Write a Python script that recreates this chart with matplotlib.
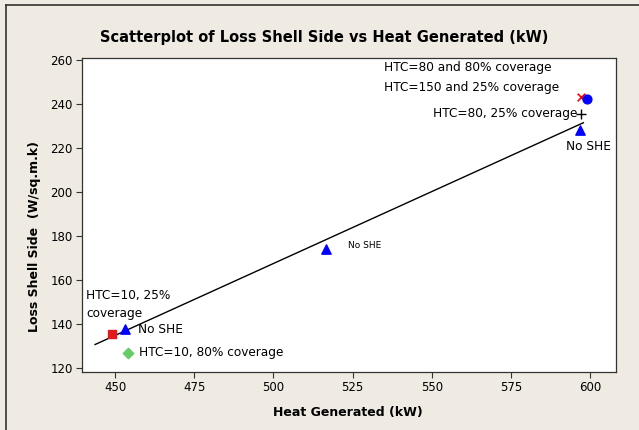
import numpy as np
import matplotlib
matplotlib.use("Agg")
import matplotlib.pyplot as plt
from matplotlib.lines import Line2D

plt.rcParams['font.family'] = ['DejaVu Sans']

# "No SHE" runs (blue triangles)
no_she_heat = [453, 516.6, 596.7]
no_she_loss = [137.7, 174.1, 228.2]

# HTC=10, 25% coverage
htc10_25_heat = [449]
htc10_25_loss = [135.5]
# HTC=10, 80% coverage
htc10_80_heat = [454]
htc10_80_loss = [127]
# HTC=80, 25% coverage
htc80_25_heat = [597.3]
htc80_25_loss = [235.5]
# HTC=80, 80% coverage
htc80_80_heat = [597]
htc80_80_loss = [243.3]
# HTC=150, 25% coverage
htc150_25_heat = [598.9]
htc150_25_loss = [242.1]

fit_x_range = [443.7, 597.9]

x_ticks = [450, 475, 500, 525, 550, 575, 600]
y_ticks = [120, 140, 160, 180, 200, 220, 240, 260]

bg = '#EFEBE2'
fig = plt.figure(figsize=(6.39, 4.30), dpi=100, facecolor=bg)
ax = fig.add_axes([0.129, 0.1356, 0.8345, 0.7284])
ax.set_facecolor('white')

# fitted line through the no-SHE and HTC 10/80 @ 25% runs
fit_x = no_she_heat + htc10_25_heat + htc80_25_heat
fit_y = no_she_loss + htc10_25_loss + htc80_25_loss
slope, intercept = np.polyfit(fit_x, fit_y, 1)
lx = np.array(fit_x_range)
ax.plot(lx, slope * lx + intercept, color='black', lw=1.0, zorder=2)

ax.scatter(no_she_heat, no_she_loss, marker='^', s=45, color='#0000FF', zorder=3)
ax.scatter(htc10_25_heat, htc10_25_loss, marker='s', s=36, color='#E31A1C', zorder=3)
ax.scatter(htc10_80_heat, htc10_80_loss, marker='D', s=28, color='#66CC66', zorder=3)
ax.scatter(htc80_25_heat, htc80_25_loss, marker='+', s=45, color='black', linewidths=1.0, zorder=3)
ax.scatter(htc80_80_heat, htc80_80_loss, marker='x', s=30, color='#FF0000', linewidths=1.2, zorder=3)
ax.scatter(htc150_25_heat, htc150_25_loss, marker='o', s=40, color='#0000FF', zorder=3)

fs = 8.7
ax.text(440.8, 148.9, 'HTC=10, 25%\ncoverage', fontsize=fs, ha='left', va='center', linespacing=1.45)
ax.text(457.3, 137.7, 'No SHE', fontsize=fs, ha='left', va='center')
ax.text(457.6, 126.8, 'HTC=10, 80% coverage', fontsize=fs, ha='left', va='center')
ax.text(523.5, 175.5, 'No SHE', fontsize=6.5, ha='left', va='center')
ax.text(534.9, 256.4, 'HTC=80 and 80% coverage', fontsize=fs, ha='left', va='center')
ax.text(534.9, 247.7, 'HTC=150 and 25% coverage', fontsize=fs, ha='left', va='center')
ax.text(596.0, 235.5, 'HTC=80, 25% coverage', fontsize=fs, ha='right', va='center')
ax.text(592.4, 220.5, 'No SHE', fontsize=fs, ha='left', va='center')

ax.set_xlim(439.7, 608.1)
ax.set_ylim(118.3, 260.7)
ax.set_xticks(x_ticks)
ax.set_yticks(y_ticks)
ax.tick_params(direction='out', length=4, width=0.8, color='#333333', labelsize=8.5, pad=3)
for sp in ax.spines.values():
    sp.set_color('#333333')
    sp.set_linewidth(0.9)

fig.text(0.508, 0.912, 'Scatterplot of Loss Shell Side vs Heat Generated (kW)',
         fontsize=10.5, fontweight='bold', ha='center', va='center')
fig.text(0.545, 0.040, 'Heat Generated (kW)', fontsize=9, fontweight='bold',
         ha='center', va='center')
fig.text(0.054, 0.45, 'Loss Shell Side  (W/sq.m.k)', fontsize=9, fontweight='bold',
         ha='center', va='center', rotation=90)

# outer frame (left and top edges visible)
fig.add_artist(Line2D([6 / 639, 6 / 639], [0, 1 - 5 / 430], transform=fig.transFigure,
                      color='#333333', lw=1.2))
fig.add_artist(Line2D([6 / 639, 1], [1 - 5 / 430, 1 - 5 / 430], transform=fig.transFigure,
                      color='#333333', lw=1.2))

fig.savefig('out.png', dpi=100, facecolor=bg)
